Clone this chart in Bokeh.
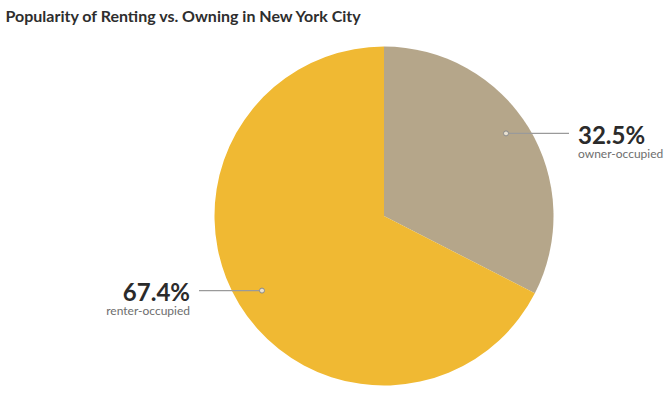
import math
from bokeh.plotting import figure
from bokeh.models import Range1d, ColumnDataSource
from bokeh.core.properties import value
from bokeh.embed import file_html
from bokeh.resources import INLINE

title = "Popularity of Renting vs. Owning in New York City"
categories = ["owner-occupied", "renter-occupied"]
shares = [32.5, 67.4]
colors = ["#b5a68a", "#f0b933"]

W, H = 667, 396
cx, cy = 383.5, 215.5  # pie centre in pixels from top-left
R = 169.5
label_nudge = {"owner-occupied": 8, "renter-occupied": 0}  # style: vertical label offset

p = figure(width=W, height=H, output_backend="svg", toolbar_location=None,
           x_range=Range1d(-cx, W - cx), y_range=Range1d(-(H - cy), cy),
           min_border=0, min_border_left=0, min_border_right=0,
           min_border_top=0, min_border_bottom=0)
p.axis.visible = False
p.grid.visible = False
p.outline_line_color = None
p.background_fill_color = "white"
p.border_fill_color = "white"

total = sum(shares)
starts, ends, mids = [], [], []
cum = 0.0
for v in shares:
    a0 = math.pi / 2 - 2 * math.pi * (cum + v) / total
    a1 = math.pi / 2 - 2 * math.pi * cum / total
    starts.append(a0)
    ends.append(a1)
    mids.append((a0 + a1) / 2)
    cum += v

src = ColumnDataSource(dict(start=starts, end=ends, color=colors))
p.wedge(x=0, y=0, radius=R, start_angle="start", end_angle="end",
        fill_color="color", line_color=None, source=src)

# labels
rd = 143
for cat, v, m in zip(categories, shares, mids):
    dx = rd * math.cos(m)
    dy = rd * math.sin(m) + label_nudge[cat]
    side = 1 if dx > 0 else -1
    xe = side * 185
    p.line([dx, xe], [dy, dy], line_color="#9a9a9a", line_width=1.2)
    p.scatter([dx], [dy], size=5, fill_color="#e8e0d0", line_color="#8a8a8a", line_width=1)
    tx = side * 194
    align = "left" if side > 0 else "right"
    p.text([tx], [dy - 1], text=[f"{v}%"], text_font=value("Lato"), text_font_style="bold",
           text_font_size="24px", text_color="#2b2b2b", text_align=align,
           text_baseline="middle")
    p.text([tx], [dy - 20], text=[cat], text_font=value("Lato"),
           text_font_size="12px", text_color="#6e6e6e", text_align=align,
           text_baseline="middle")

p.text([-cx + 5], [cy - 15], text=[title], text_font=value("Lato"), text_font_style="bold",
       text_font_size="16px", text_color="#2e2e2e", text_align="left", text_baseline="middle")

open("out.html", "w").write(file_html(p, INLINE))
